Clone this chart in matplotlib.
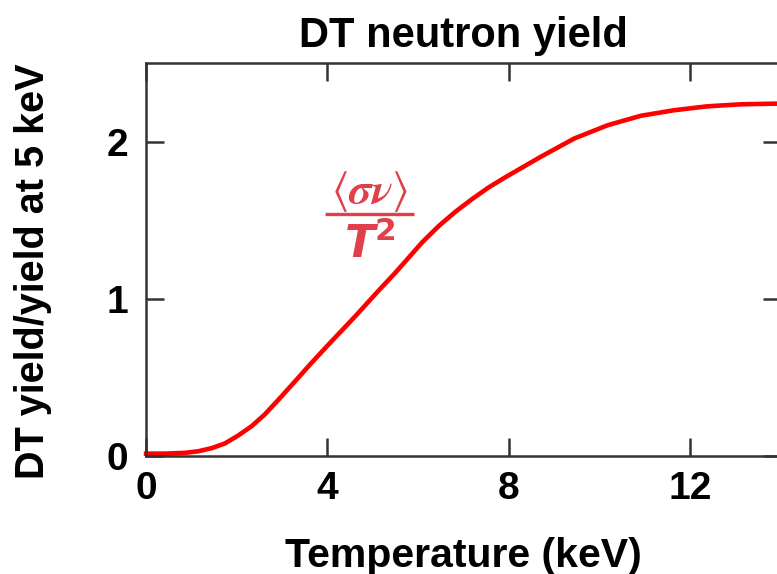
import matplotlib
matplotlib.use("Agg")
import matplotlib.pyplot as plt

temperature_kev = [0.0, 0.42, 0.86, 1.15, 1.45, 1.74, 2.03, 2.33, 2.62, 2.91, 3.27, 3.64, 4.01,
                   4.37, 4.60, 5.12, 5.50, 6.09, 6.46, 6.83, 7.19, 7.56, 7.93, 8.29, 8.59,
                   8.71, 9.44, 10.18, 10.91, 11.64, 12.37, 13.11, 13.84, 14.0]
relative_yield = [0.015, 0.015, 0.02, 0.03, 0.05, 0.08, 0.13, 0.19, 0.265, 0.355, 0.47, 0.59,
                  0.705, 0.815, 0.885, 1.05, 1.167, 1.36, 1.465, 1.556, 1.635, 1.71, 1.775,
                  1.835, 1.885, 1.905, 2.02, 2.105, 2.165, 2.20, 2.225, 2.238, 2.242, 2.242]
x_ticks = [0, 4, 8, 12]
y_ticks = [0, 1, 2]

FONT = ['Liberation Sans', 'DejaVu Sans']

fig = plt.figure(figsize=(7.77, 5.74), dpi=100)
ax = fig.add_axes([0.188, 0.2056, 0.817, 0.6844])
ax.plot(temperature_kev, relative_yield, color='#ff0000', lw=3.3, solid_joinstyle='round',
        clip_on=False)
ax.set_xlim(0, 14)
ax.set_ylim(0, 2.5)
ax.set_xticks(x_ticks)
ax.set_yticks(y_ticks)
ax.tick_params(direction='in', length=13, width=1.8, color='#333333', top=True, right=True,
               labelsize=28)
ax.tick_params(axis='x', pad=11)
ax.tick_params(axis='y', pad=13)
for lab in ax.get_xticklabels() + ax.get_yticklabels():
    lab.set_family(FONT)
    lab.set_weight('bold')
for sp in ax.spines.values():
    sp.set_linewidth(1.8)
    sp.set_color('#333333')

fig.text(0.597, 1 - 567 / 574, 'Temperature (keV)', fontsize=29.5, fontweight='bold',
         family=FONT, ha='center', va='baseline')
fig.text(0.042, 0.528, 'DT yield/yield at 5 keV', fontsize=28.5, fontweight='bold',
         family=FONT, ha='center', va='center', rotation=90)
fig.text(0.596, 1 - 47 / 574, 'DT neutron yield', fontsize=30, fontweight='bold',
         family=FONT, ha='center', va='baseline')

ann_color = '#e0404a'
ax.text(0.352, 0.645, r'$\langle\boldsymbol{\sigma\nu}\rangle$', transform=ax.transAxes,
        ha='center', va='baseline', fontsize=32, color=ann_color, math_fontfamily='stix')
ax.plot([0.282, 0.422], [0.617, 0.617], transform=ax.transAxes, color=ann_color, lw=2.4,
        solid_capstyle='butt')
ax.text(0.352, 0.505, r'$\boldsymbol{T}^{\mathbf{2}}$', transform=ax.transAxes, ha='center',
        va='baseline', fontsize=32, color=ann_color, math_fontfamily='dejavusans')

fig.savefig('out.png', dpi=100)
